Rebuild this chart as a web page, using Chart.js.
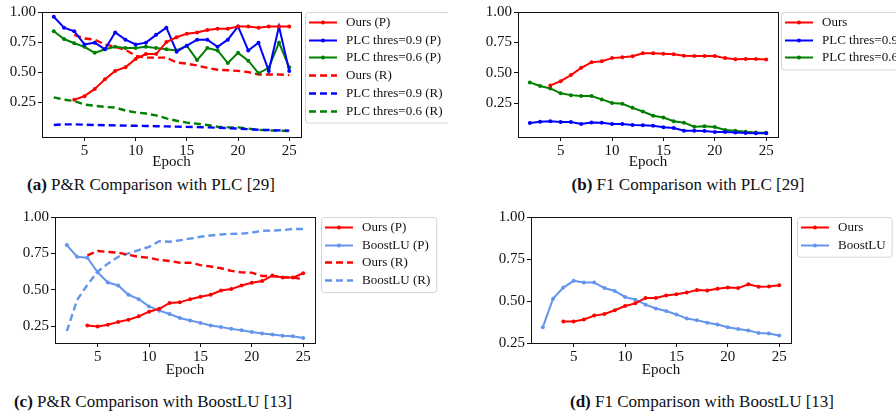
<!DOCTYPE html>
<html>
<head>
<meta charset="utf-8">
<script src="https://cdn.jsdelivr.net/npm/chart.js@4.4.1/dist/chart.umd.min.js"></script>
<style>
  html, body { margin: 0; padding: 0; background: #fff; }
  body { width: 896px; height: 417px; position: relative; overflow: hidden; }
  canvas { position: absolute; }
  .cap { position: absolute; transform: translate(-50%, -50%); white-space: nowrap;
         font-family: 'Liberation Serif', 'Times New Roman', serif; font-size: 17px; color: #111; }
  .cap b { font-weight: bold; }
</style>
</head>
<body>
<canvas id="cA" width="448" height="172" style="left:0px;top:0px;width:448px;height:172px"></canvas>
<canvas id="cB" width="448" height="172" style="left:448px;top:0px;width:448px;height:172px"></canvas>
<canvas id="cC" width="448" height="175" style="left:0px;top:205px;width:448px;height:175px"></canvas>
<canvas id="cD" width="448" height="175" style="left:448px;top:205px;width:448px;height:175px"></canvas>
<div class="cap" style="left:151px;top:185px"><b>(a)</b> P&amp;R Comparison with PLC [29]</div>
<div class="cap" style="left:688px;top:185px"><b>(b)</b> F1 Comparison with PLC [29]</div>
<div class="cap" style="left:153px;top:402px"><b>(c)</b> P&amp;R Comparison with BoostLU [13]</div>
<div class="cap" style="left:702px;top:402px"><b>(d)</b> F1 Comparison with BoostLU [13]</div>
<script>
// ---------------- DATA ----------------
const epochsFrom2 = [2,3,4,5,6,7,8,9,10,11,12,13,14,15,16,17,18,19,20,21,22,23,24,25];
const epochsFrom4 = [4,5,6,7,8,9,10,11,12,13,14,15,16,17,18,19,20,21,22,23,24,25];
const xTicks = [5,10,15,20,25];
const yTicks = [0.25,0.5,0.75,1.0];

// (a) P&R vs PLC
const a_oursP  = [0.27,0.30,0.36,0.44,0.51,0.54,0.61,0.65,0.65,0.75,0.79,0.82,0.83,0.85,0.86,0.86,0.88,0.88,0.87,0.88,0.88,0.88];
const a_plc9P  = [0.96,0.87,0.84,0.73,0.745,0.69,0.83,0.77,0.73,0.745,0.81,0.87,0.67,0.72,0.77,0.77,0.71,0.77,0.88,0.68,0.745,0.51,0.88,0.51];
const a_plc6P  = [0.84,0.775,0.74,0.71,0.66,0.69,0.71,0.70,0.70,0.71,0.70,0.69,0.68,0.72,0.60,0.70,0.68,0.575,0.66,0.595,0.49,0.535,0.745,0.54];
const a_oursR  = [0.81,0.78,0.77,0.73,0.71,0.685,0.635,0.62,0.62,0.62,0.58,0.57,0.555,0.535,0.52,0.515,0.51,0.50,0.48,0.48,0.48,0.475];
const a_plc9R  = [0.06,0.065,0.065,0.063,0.06,0.058,0.057,0.055,0.053,0.052,0.05,0.048,0.046,0.044,0.042,0.04,0.037,0.034,0.03,0.025,0.02,0.018,0.015,0.013];
const a_plc6R  = [0.29,0.27,0.26,0.23,0.22,0.21,0.205,0.18,0.165,0.155,0.14,0.115,0.095,0.08,0.07,0.06,0.045,0.04,0.04,0.03,0.02,0.015,0.013,0.01];

// (b) F1 vs PLC
const b_ours   = [0.395,0.43,0.48,0.54,0.585,0.595,0.62,0.627,0.635,0.66,0.66,0.655,0.652,0.64,0.638,0.638,0.638,0.62,0.61,0.613,0.613,0.608];
const b_plc9   = [0.085,0.096,0.099,0.093,0.093,0.077,0.09,0.088,0.077,0.077,0.068,0.066,0.063,0.05,0.044,0.022,0.022,0.019,0.011,0.011,0.008,0.003,0.0,0.0];
const b_plc6   = [0.42,0.39,0.37,0.33,0.315,0.307,0.307,0.28,0.25,0.244,0.21,0.18,0.145,0.13,0.10,0.088,0.055,0.058,0.052,0.027,0.022,0.014,0.008,0.005];

// (c) P&R vs BoostLU
const c_oursP  = [0.255,0.248,0.26,0.28,0.295,0.318,0.35,0.37,0.41,0.414,0.436,0.452,0.466,0.495,0.505,0.53,0.548,0.56,0.598,0.584,0.584,0.614];
const c_boostP = [0.807,0.727,0.72,0.62,0.55,0.53,0.466,0.436,0.386,0.357,0.334,0.307,0.29,0.273,0.255,0.245,0.232,0.223,0.21,0.2,0.193,0.184,0.182,0.17];
const c_oursR  = [0.736,0.766,0.76,0.755,0.74,0.727,0.72,0.705,0.698,0.686,0.686,0.67,0.66,0.648,0.63,0.62,0.618,0.595,0.595,0.586,0.584,0.573];
const c_boostR = [0.216,0.43,0.534,0.625,0.68,0.727,0.75,0.773,0.795,0.834,0.83,0.84,0.852,0.864,0.873,0.88,0.884,0.886,0.893,0.905,0.907,0.91,0.918,0.918];

// (d) F1 vs BoostLU
const d_ours   = [0.378,0.378,0.39,0.413,0.423,0.445,0.47,0.486,0.518,0.518,0.533,0.54,0.55,0.565,0.563,0.573,0.58,0.577,0.6,0.585,0.587,0.594];
const d_boost  = [0.344,0.514,0.58,0.62,0.61,0.61,0.577,0.56,0.524,0.508,0.478,0.455,0.44,0.42,0.396,0.386,0.37,0.36,0.344,0.333,0.325,0.31,0.307,0.295];

// ---------------- STYLE ----------------
const FONT = "'Liberation Serif', 'Times New Roman', Times, serif";
const RED = '#ff0000', BLUE = '#0000ff', GREEN = '#008000', CBLUE = '#6495ed';

function ds(label, epochs, values, color, dashed) {
  return {
    label,
    data: epochs.map((e, i) => ({ x: e, y: values[i] })),
    borderColor: color,
    backgroundColor: color,
    pointBackgroundColor: color,
    pointBorderColor: color,
    borderWidth: dashed ? 2.4 : 2,
    borderDash: dashed ? [7, 4] : [],
    pointRadius: dashed ? 0 : 2,
    pointBorderWidth: 0,
    pointHoverRadius: 0,
    tension: 0,
    fill: false
  };
}

const framePlugin = {
  id: 'frame',
  afterDatasetsDraw(chart) {
    const { ctx, chartArea: a } = chart;
    ctx.save();
    ctx.strokeStyle = '#111';
    ctx.lineWidth = 1;
    ctx.setLineDash([]);
    ctx.strokeRect(Math.round(a.left) + 0.5, Math.round(a.top) + 0.5,
                   Math.round(a.right - a.left), Math.round(a.bottom - a.top));
    ctx.restore();
  }
};

const legendPlugin = {
  id: 'boxLegend',
  afterDraw(chart, args, opts) {
    if (!opts || opts.left === undefined) return;
    const ctx = chart.ctx;
    const items = chart.data.datasets;
    ctx.save();
    ctx.font = '13px ' + FONT;
    const maxW = Math.max(...items.map(d => ctx.measureText(d.label).width));
    const w = 41 + maxW + 6;
    const rowH = 17.7;
    const h = 22 + (items.length - 1) * rowH;
    const x = opts.left + 0.5, y = opts.top + 0.5, r = 3;
    ctx.beginPath();
    ctx.moveTo(x + r, y);
    ctx.lineTo(x + w - r, y); ctx.quadraticCurveTo(x + w, y, x + w, y + r);
    ctx.lineTo(x + w, y + h - r); ctx.quadraticCurveTo(x + w, y + h, x + w - r, y + h);
    ctx.lineTo(x + r, y + h); ctx.quadraticCurveTo(x, y + h, x, y + h - r);
    ctx.lineTo(x, y + r); ctx.quadraticCurveTo(x, y, x + r, y);
    ctx.closePath();
    ctx.fillStyle = 'rgba(255,255,255,0.85)';
    ctx.fill();
    ctx.strokeStyle = '#d4d4d4';
    ctx.lineWidth = 1;
    ctx.stroke();
    items.forEach((d, i) => {
      const cy = Math.round(opts.top + 10 + i * rowH) + 0.5;
      ctx.strokeStyle = d.borderColor;
      ctx.lineWidth = d.borderWidth;
      ctx.setLineDash(d.borderDash || []);
      ctx.beginPath();
      ctx.moveTo(opts.left + 4, cy);
      ctx.lineTo(opts.left + 32, cy);
      ctx.stroke();
      ctx.setLineDash([]);
      if (d.pointRadius > 0) {
        ctx.fillStyle = d.borderColor;
        ctx.beginPath();
        ctx.arc(opts.left + 18, cy, 2, 0, Math.PI * 2);
        ctx.fill();
      }
      ctx.fillStyle = '#111';
      ctx.textBaseline = 'middle';
      ctx.textAlign = 'left';
      ctx.fillText(d.label, opts.left + 41, cy);
    });
    ctx.restore();
  }
};

function makeChart(id, cfg) {
  const canvas = document.getElementById(id);
  const H = canvas.height, W = canvas.width;
  const a = cfg.area; // chart area in canvas coordinates
  return new Chart(canvas, {
    type: 'line',
    data: { datasets: cfg.datasets },
    options: {
      responsive: false,
      animation: false,
      devicePixelRatio: 1,
      layout: { padding: { left: 0, top: a.t, right: W - a.r, bottom: 0 } },
      plugins: {
        legend: { display: false },
        tooltip: { enabled: false },
        boxLegend: cfg.legend
      },
      scales: {
        x: {
          type: 'linear',
          min: 0.85, max: 26.15,
          afterBuildTicks: s => { s.ticks = xTicks.map(v => ({ value: v })); },
          afterFit: s => { s.height = H - a.b; },
          ticks: { color: '#111', font: { family: FONT, size: 15 }, padding: 1, maxRotation: 0,
                   callback: v => String(v) },
          grid: { drawOnChartArea: false, drawTicks: true, tickLength: 4, tickColor: '#111', color: '#111' },
          border: { display: true, color: '#111', width: 1 },
          title: { display: true, text: 'Epoch', color: '#111', font: { family: FONT, size: 15 },
                   padding: { top: 0, bottom: 1 } }
        },
        y: {
          type: 'linear',
          min: cfg.ymin, max: cfg.ymax,
          afterBuildTicks: s => { s.ticks = yTicks.map(v => ({ value: v })); },
          afterFit: s => { s.width = a.l; },
          ticks: { color: '#111', font: { family: FONT, size: 15 }, padding: 2,
                   callback: v => Number(v).toFixed(2) },
          grid: { drawOnChartArea: false, drawTicks: true, tickLength: 4, tickColor: '#111', color: '#111' },
          border: { display: true, color: '#111', width: 1 }
        }
      }
    },
    plugins: [framePlugin, legendPlugin]
  });
}

function buildAll() {
  makeChart('cA', {
    area: { l: 42, t: 12, r: 301, b: 137 },
    ymin: -0.04, ymax: 1.0,
    legend: { left: 305, top: 12 },
    datasets: [
      ds('Ours (P)', epochsFrom4, a_oursP, RED, false),
      ds('PLC thres=0.9 (P)', epochsFrom2, a_plc9P, BLUE, false),
      ds('PLC thres=0.6 (P)', epochsFrom2, a_plc6P, GREEN, false),
      ds('Ours (R)', epochsFrom4, a_oursR, RED, true),
      ds('PLC thres=0.9 (R)', epochsFrom2, a_plc9R, BLUE, true),
      ds('PLC thres=0.6 (R)', epochsFrom2, a_plc6R, GREEN, true)
    ]
  });

  makeChart('cB', {
    area: { l: 70, t: 12, r: 330, b: 137 },
    ymin: -0.03, ymax: 1.0,
    legend: { left: 333, top: 12 },
    datasets: [
      ds('Ours', epochsFrom4, b_ours, RED, false),
      ds('PLC thres=0.9', epochsFrom2, b_plc9, BLUE, false),
      ds('PLC thres=0.6', epochsFrom2, b_plc6, GREEN, false)
    ]
  });

  makeChart('cC', {
    area: { l: 55, t: 12, r: 315, b: 138 },
    ymin: 0.135, ymax: 1.0,
    legend: { left: 321, top: 12 },
    datasets: [
      ds('Ours (P)', epochsFrom4, c_oursP, RED, false),
      ds('BoostLU (P)', epochsFrom2, c_boostP, CBLUE, false),
      ds('Ours (R)', epochsFrom4, c_oursR, RED, true),
      ds('BoostLU (R)', epochsFrom2, c_boostR, CBLUE, true)
    ]
  });

  makeChart('cD', {
    area: { l: 83, t: 12, r: 343, b: 138 },
    ymin: 0.25, ymax: 1.0,
    legend: { left: 349, top: 12 },
    datasets: [
      ds('Ours', epochsFrom4, d_ours, RED, false),
      ds('BoostLU', epochsFrom2, d_boost, CBLUE, false)
    ]
  });
}

const fontLoads = [
  '15px "Liberation Serif"', '13px "Liberation Serif"', 'bold 17px "Liberation Serif"'
].map(f => document.fonts.load(f).catch(() => null));
Promise.all(fontLoads).then(buildAll, buildAll);
</script>
</body>
</html>
